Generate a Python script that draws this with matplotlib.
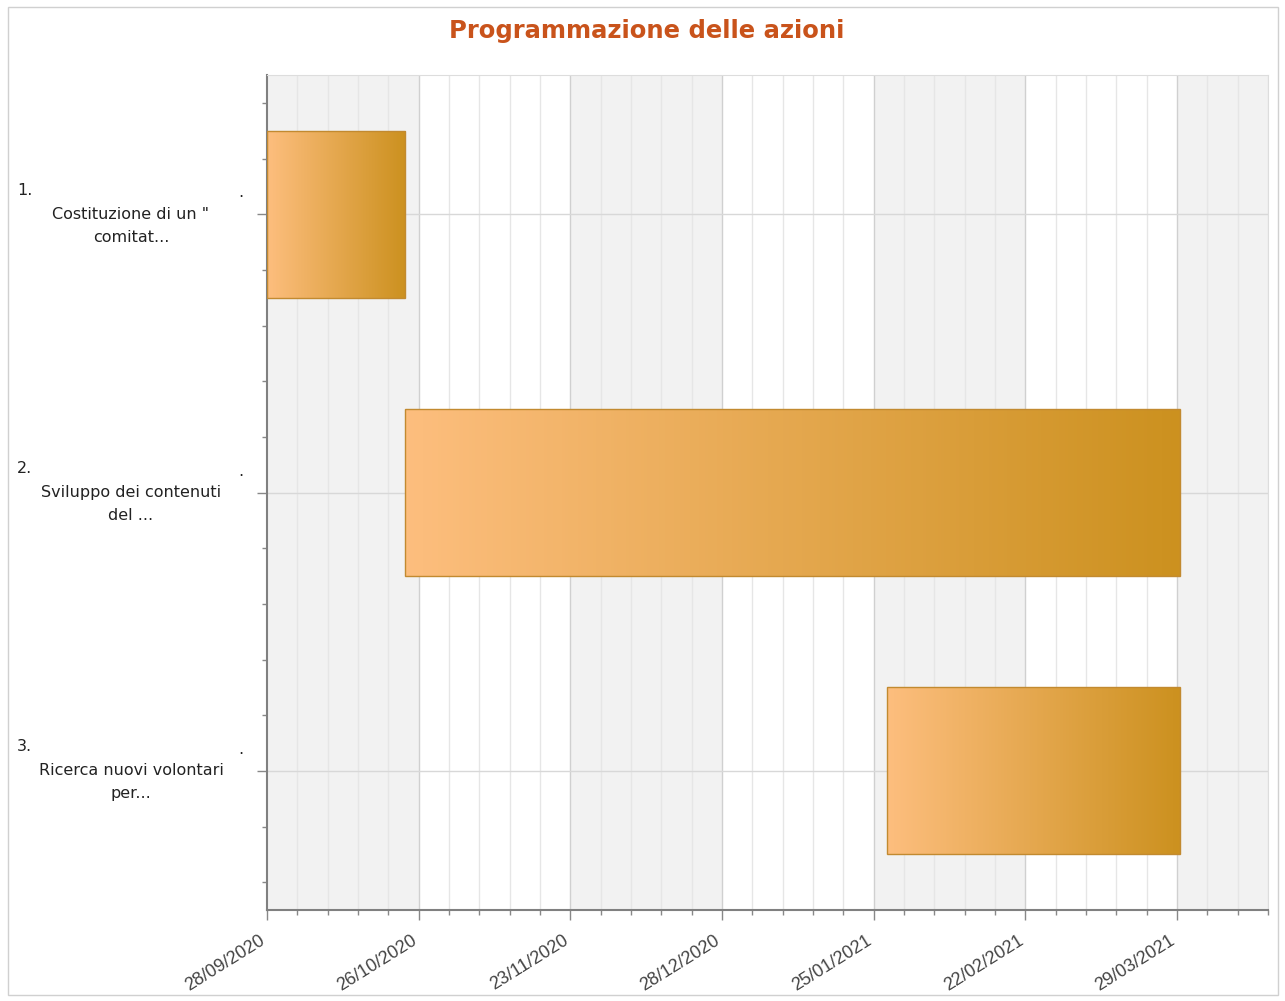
import pandas as pd
import numpy as np
import matplotlib.pyplot as plt
from matplotlib.colors import LinearSegmentedColormap
from matplotlib.patches import Rectangle

# Data
numbers = ['1.', '2.', '3.']
tasks = ['Costituzione di un "\ncomitat...',
         'Sviluppo dei contenuti\ndel ...',
         'Ricerca nuovi volontari\nper...']
start = pd.to_datetime(['2020-09-28 00:00', '2020-10-23 12:00', '2021-01-27 12:00'])
end = pd.to_datetime(['2020-10-23 12:00', '2021-03-29 12:00', '2021-03-29 12:00'])

tick_dates = pd.to_datetime(['2020-09-28', '2020-10-26', '2020-11-23', '2020-12-28',
                             '2021-01-25', '2021-02-22', '2021-03-29', '2021-04-26'])
tick_labels = ['28/09/2020', '26/10/2020', '23/11/2020', '28/12/2020',
               '25/01/2021', '22/02/2021', '29/03/2021']

# the chart places every "month" tick at equal distance
tick_ns = tick_dates.values.astype('int64')


def to_x(d):
    return np.interp(d.values.astype('int64'), tick_ns, np.arange(len(tick_ns)))


x0 = to_x(start)
x1 = to_x(end)
ypos = np.arange(len(tasks)) + 0.5
bar_h = 0.6
xmax = 6.6

fig = plt.figure(figsize=(12.85, 10.01), dpi=100)
ax = fig.add_axes([267 / 1285, 91 / 1001, 1001 / 1285, 835 / 1001])

# alternating background bands
for i in range(0, 7, 2):
    ax.axvspan(i, min(i + 1, xmax), color='#f2f2f2', zorder=0, lw=0)

minor = [v for v in np.arange(0, xmax + 0.001, 0.2) if abs(v - round(v)) > 0.01]
for v in minor:
    ax.axvline(v, color='#e6e6e6', lw=1, zorder=0.5)
for v in range(1, 7):
    ax.axvline(v, color='#d0d0d0', lw=1, zorder=0.6)
for y in ypos:
    ax.axhline(y, color='#d8d8d8', lw=1, zorder=0.6)

cmap = LinearSegmentedColormap.from_list('bar', ['#fdbe7e', '#cc911f'])
grad = np.linspace(0, 1, 256).reshape(1, -1)
bars = ax.barh(ypos, x1 - x0, left=x0, height=bar_h, facecolor='none',
               edgecolor='#c28a30', lw=1, zorder=3)
for b in bars:
    im = ax.imshow(grad, cmap=cmap, aspect='auto', zorder=2,
                   extent=[b.get_x(), b.get_x() + b.get_width(),
                           b.get_y() + b.get_height(), b.get_y()])
    im.set_clip_path(b)

ax.set_xlim(0, xmax)
ax.set_ylim(3, 0)

ax.set_xticks(range(len(tick_labels)))
ax.set_xticklabels([])
ax.set_xticks(minor, minor=True)
ax.set_yticks(ypos)
ax.set_yticklabels([])
ax.set_yticks([v for v in np.arange(0.1, 3, 0.2) if abs((v - 0.5) % 1) > 0.01
               and abs((v - 0.5) % 1 - 1) > 0.01], minor=True)
ax.tick_params(axis='both', which='major', length=7.2, color='#888888', width=1)
ax.tick_params(axis='both', which='minor', length=3.6, color='#888888', width=1)

# rotated date labels, offsets in points (1 px = 0.72 pt)
for i, lbl in enumerate(tick_labels):
    ax.annotate(lbl, xy=(i, 0), xycoords=('data', 'axes fraction'),
                xytext=(-8 * 0.72, -22 * 0.72), textcoords='offset points',
                rotation=32, rotation_mode='anchor', ha='right', va='top',
                fontsize=13, color='#444444', family='Liberation Sans',
                annotation_clip=False)

for s in ['left', 'bottom']:
    ax.spines[s].set_color('#808080')
    ax.spines[s].set_linewidth(1.5)
for s in ['top', 'right']:
    ax.spines[s].set_color('#dddddd')

# y labels
for num, task, y in zip(numbers, tasks, ypos):
    ax.annotate(num, xy=(17 / 1285, y), xycoords=('figure fraction', 'data'),
                xytext=(0, 24 * 0.72), textcoords='offset points', ha='left',
                va='center', fontsize=11.5, color='#222222')
    ax.annotate('.', xy=(241 / 1285, y), xycoords=('figure fraction', 'data'),
                xytext=(0, 17 * 0.72), textcoords='offset points', ha='center',
                va='baseline', fontsize=11.5, color='#222222')
    for k, line in enumerate(task.split('\n')):
        ax.annotate(line, xy=(131 / 1285, y), xycoords=('figure fraction', 'data'),
                    xytext=(0, -23 * 0.72 * k), textcoords='offset points',
                    ha='center', va='center', fontsize=11.5, color='#222222',
                    annotation_clip=False)

fig.text(647 / 1285, 1 - 31 / 1001, 'Programmazione delle azioni', ha='center',
         va='center', fontsize=17.5, fontweight='bold', color='#c9531b')

fig.patches.append(Rectangle((8 / 1285, 6 / 1001), 1270 / 1285, 988 / 1001,
                             transform=fig.transFigure, fill=False,
                             edgecolor='#d0d0d0', lw=1))

plt.savefig('out.png', dpi=100)
